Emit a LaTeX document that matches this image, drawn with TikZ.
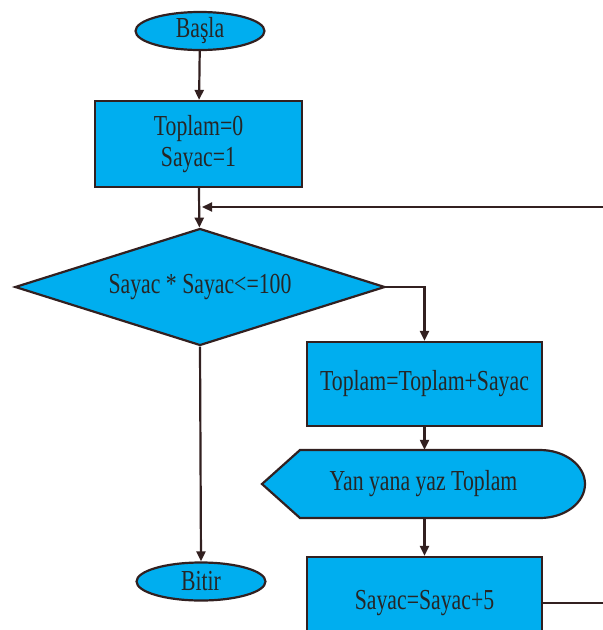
\documentclass[tikz,border=0pt]{standalone}
\usepackage{fontspec}
\setmainfont{Liberation Serif}[FakeStretch=0.75]
\usetikzlibrary{shapes.geometric,arrows.meta}
\definecolor{boxfill}{RGB}{0,174,239}
\definecolor{edge}{RGB}{50,32,32}
\begin{document}
\begin{tikzpicture}[x=1pt,y=-1pt,
  base/.style={draw=edge,fill=boxfill,line width=2.2pt,inner sep=0pt,
    font=\fontsize{29}{31}\selectfont,text=black!85,align=center},
  term/.style={base,ellipse,minimum width=129pt,minimum height=38pt},
  proc/.style={base,rectangle},
  dec/.style={base,diamond,shape aspect=3.2,minimum width=370pt,minimum height=117pt},
  conn/.style={draw=edge,line width=2.2pt},
  arr/.style={conn,-{Triangle[length=10pt,width=9pt]}}]
\useasboundingbox (0,0) rectangle (603,630);
\clip (0,0) rectangle (603,630);
% nodes
\node[term] (start) at (200,31) {Başla};
\node[proc,minimum width=207pt,minimum height=86pt] (init) at (198.5,144) {Toplam=0\\Sayac=1};
\node[dec] (cond) at (200,287) {Sayac * Sayac<=100};
\node[proc,minimum width=235pt,minimum height=84pt] (body) at (424.5,384) {Toplam=Toplam+Sayac};
% display shape
\draw[draw=edge,fill=boxfill,line width=2.2pt]
  (300,450) -- (540,450) arc[start angle=-90,end angle=90,x radius=45,y radius=34]
  -- (300,518) -- (262,484) -- cycle;
\node[font=\fontsize{29}{31}\selectfont,text=black!85,inner sep=0pt,
  minimum width=323pt,minimum height=68pt] (disp) at (423.5,484) {Yan yana yaz Toplam};
\node[proc,minimum width=235pt,minimum height=100pt] (inc) at (424.5,607) {};
\node[font=\fontsize{29}{31}\selectfont,text=black!85,inner sep=0pt] (inctext) at (424.5,603) {Sayac=Sayac+5};
\node[term] (stop) at (201,581.5) {Bitir};
\coordinate (merge) at (200,207);
% connectors
\draw[arr] (start) -- (init);
\draw[arr] (init) -- (cond);
\draw[arr] (cond.east) -| (body.north);
\draw[arr] (body.south) -- (body.south |- disp.north);
\draw[arr] (body.south |- disp.south) -- (inc.north);
\draw[arr] (cond.south) -- (stop.north);
\draw[arr,shorten >=2pt] (inc.east |- inctext) -- ++(90,0) |- (merge);
\end{tikzpicture}
\end{document}
